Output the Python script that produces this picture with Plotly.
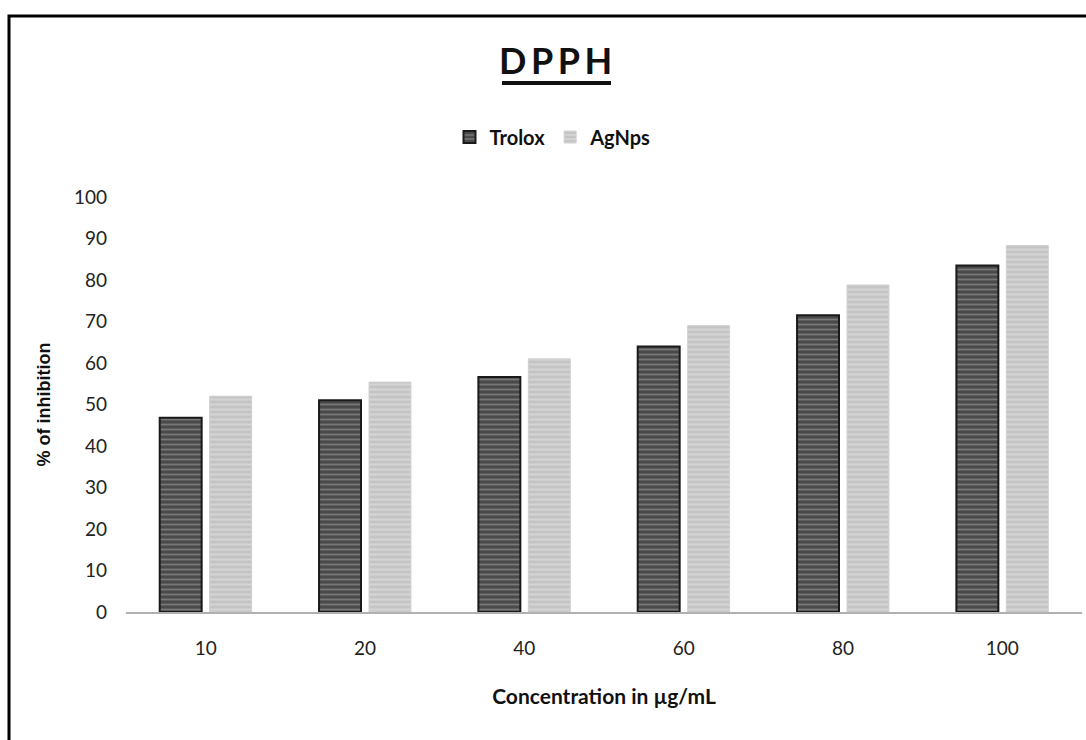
import plotly.graph_objects as go

categories = ["10", "20", "40", "60", "80", "100"]
trolox = [46.8, 51.0, 56.6, 64.0, 71.5, 83.5]
agnps = [52.0, 55.4, 61.0, 69.0, 78.8, 88.3]
y_ticks = [0, 10, 20, 30, 40, 50, 60, 70, 80, 90, 100]

W, H = 1086, 740
FONT = "Lato"

fig = go.Figure()
fig.add_trace(go.Bar(
    x=categories, y=trolox, name="Trolox",
    marker=dict(color="#4a4a4a",
                line=dict(color="#1a1a1a", width=2),
                pattern=dict(shape="-", fgcolor="#a8a8a8", size=5, solidity=0.35)),
))
fig.add_trace(go.Bar(
    x=categories, y=agnps, name="AgNps",
    marker=dict(color="#c4c4c4",
                line=dict(color="#d0d0d0", width=1),
                pattern=dict(shape="-", fgcolor="#e6e6e6", size=5, solidity=0.4)),
))

fig.update_layout(
    width=W, height=H,
    paper_bgcolor="white", plot_bgcolor="white",
    margin=dict(l=126, r=4, t=197, b=128),
    barmode="group", bargap=0.373, bargroupgap=0.16,
    font=dict(family=FONT, color="#222222"),
    showlegend=True,
    legend=dict(orientation="h", xref="container", yref="container",
                x=553 / W, xanchor="center", y=1 - 137 / H, yanchor="middle",
                font=dict(size=20, family=FONT, color="#111111", weight="bold"),
                itemwidth=30, tracegroupgap=0),
    xaxis=dict(type="category", showline=True, linecolor="#b0b0b0", linewidth=2,
               ticks="", ticklabelstandoff=18,
               tickfont=dict(size=19, family=FONT, color="#222222"),
               title=dict(text="<b>Concentration in µg/mL</b>", font=dict(size=21, family=FONT, color="#111111"),
                          standoff=32),
               showgrid=False),
    yaxis=dict(range=[0, 100], tickvals=y_ticks, showline=False, showgrid=False, zeroline=False,
               ticks="", ticklabelstandoff=18, tickfont=dict(size=19, family=FONT, color="#222222"),
               title=dict(text="<b>% of inhibition</b>", font=dict(size=18, family="Liberation Sans", color="#111111"),
                          standoff=18)),
)

fig.add_annotation(text="<b>D\u2009P\u2009P\u2009H</b>", xref="paper", yref="paper",
                   x=(555 - 126) / (W - 130), y=1 + (197 - 60) / (H - 197 - 128),
                   xanchor="center", yanchor="middle", showarrow=False,
                   font=dict(size=36, family=FONT, color="#111111"))
# underline of the title
fig.add_shape(type="line", xref="paper", yref="paper",
              x0=(502 - 126) / (W - 130), x1=(611 - 126) / (W - 130),
              y0=1 + (197 - 83) / (H - 197 - 128), y1=1 + (197 - 83) / (H - 197 - 128),
              line=dict(color="#111111", width=4))
# outer frame (cropped on right/bottom)
fig.add_shape(type="rect", xref="paper", yref="paper",
              x0=(9 - 126) / (W - 130), x1=(W + 20 - 126) / (W - 130),
              y0=-(128 + 20) / (H - 197 - 128), y1=1 + (197 - 16) / (H - 197 - 128),
              line=dict(color="#000000", width=3), layer="below")

fig.write_html("out.html")
